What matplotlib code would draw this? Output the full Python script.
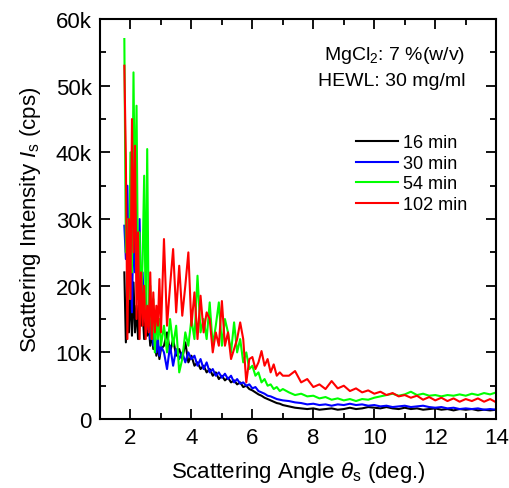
import matplotlib
matplotlib.use("Agg")
import matplotlib.pyplot as plt
from matplotlib.ticker import MultipleLocator, FuncFormatter

plt.rcParams["font.family"] = ["Liberation Sans", "DejaVu Sans"]
plt.rcParams["mathtext.fontset"] = "custom"
plt.rcParams["mathtext.rm"] = "Liberation Sans"
plt.rcParams["mathtext.it"] = "Liberation Sans:italic"

# scattering angle (deg.)
angle = [
    1.80, 1.85, 1.90, 1.95, 2.00, 2.05, 2.10, 2.15, 2.20, 2.25, 2.30, 2.35, 2.40,
    2.45, 2.50, 2.55, 2.60, 2.65, 2.70, 2.75, 2.80, 2.85, 2.90, 2.95, 3.00,
    3.1, 3.2, 3.3, 3.4, 3.5, 3.6, 3.7, 3.8, 3.9, 4.0, 4.1, 4.2, 4.3, 4.4, 4.5,
    4.6, 4.7, 4.8, 4.9, 5.0, 5.1, 5.2, 5.3, 5.4, 5.5, 5.6, 5.7, 5.8, 5.9, 6.0,
    6.1, 6.2, 6.3, 6.4, 6.5, 6.6, 6.7, 6.8, 6.9, 7.0,
    7.2, 7.4, 7.6, 7.8, 8.0, 8.2, 8.4, 8.6, 8.8, 9.0, 9.2, 9.4, 9.6, 9.8, 10.0,
    10.2, 10.4, 10.6, 10.8, 11.0, 11.2, 11.4, 11.6, 11.8, 12.0, 12.2, 12.4,
    12.6, 12.8, 13.0, 13.2, 13.4, 13.6, 13.8, 14.0,
]

# intensities in kcps
i_16min = [
    22, 11.5, 18, 13, 19.5, 12.5, 20.5, 13, 17, 12, 20, 14, 16, 12, 15, 12.5,
    14, 11, 13, 10.5, 12, 9.5, 11, 9, 10.5,
    11, 13, 10, 12, 9.5, 10.5, 9, 11.5, 8.5, 9.5, 8, 8.5, 7.5, 8, 7, 7.5, 6.5,
    7, 6, 6.5, 5.8, 6.2, 5.5, 5.8, 5.2, 5.5, 4.8, 5, 4.5, 4.3, 4, 3.7, 3.5,
    3.2, 3, 2.8, 2.6, 2.4, 2.3, 2.1,
    1.9, 1.7, 1.6, 1.5, 1.6, 1.4, 1.5, 1.6, 1.4, 1.5, 1.7, 1.5, 1.6, 1.8, 1.7,
    1.6, 1.8, 1.6, 1.5, 1.7, 1.5, 1.6, 1.4, 1.5, 1.6, 1.4, 1.5, 1.3, 1.5, 1.4,
    1.5, 1.3, 1.4, 1.3, 1.4,
]
i_30min = [
    29, 24, 35, 20, 28, 16, 30, 22, 33, 18, 30, 17, 22, 15, 19, 13.5, 17, 12,
    15, 11, 13, 10, 12, 9.5, 11,
    10, 7.5, 11, 8, 10.5, 9, 10, 8.5, 10, 9, 9.5, 8, 9, 7.5, 8.5, 7, 7.5, 6.5,
    7, 6.2, 6.8, 6, 6.5, 5.5, 6, 5.3, 5.5, 5, 5.2, 4.6, 4.8, 4.2, 4, 3.8, 3.5,
    3.4, 3.2, 3.0, 2.9, 2.8,
    2.7, 2.5, 2.4, 2.2, 2.3, 2.1, 2.2, 2.0, 2.2, 2.1, 2.3, 2.1, 2.2, 2.0, 2.1,
    1.9, 2.0, 1.8, 1.9, 2.0, 1.8, 1.9, 2.0, 1.8, 1.7, 1.8, 1.6, 1.7, 1.5, 1.6,
    1.5, 1.6, 1.4, 1.5, 1.4,
]
i_54min = [
    57, 25, 30, 18, 40, 22, 52, 30, 47, 20, 28, 17, 24, 36.5, 15, 40.5, 14, 20,
    12, 18, 10, 16, 12, 15, 11,
    14, 10, 15, 11, 14, 7, 9, 13, 11, 15, 12, 21.5, 13, 15, 12, 17.5, 11, 14,
    17.5, 11, 15, 13, 10, 14.5, 10, 12, 8.5, 10, 7.5, 8, 6.5, 7, 5.5, 6, 5,
    5.2, 4.5, 4.8, 4.2, 4.5,
    4.0, 3.6, 3.8, 3.4, 3.5, 3.1, 3.3, 2.9, 3.1, 2.8, 3.0, 2.7, 3.0, 2.9, 3.2,
    3.4, 3.6, 3.8, 3.5, 3.7, 4.1, 3.6, 3.8, 3.5, 3.6, 3.4, 3.6, 3.5, 3.7, 3.5,
    3.8, 3.6, 3.9, 3.7, 4.0,
]
i_102min = [
    53, 39, 12, 30, 18, 45, 25, 41, 15, 28, 12, 22, 14, 20, 12, 17, 13, 22, 12,
    19, 13, 17, 14, 21, 13,
    27, 14, 20, 25.5, 16, 23, 15.5, 20, 25, 14, 19, 12, 18.5, 13, 16, 15, 10,
    13, 11, 17.7, 11, 13, 9, 10.5, 12, 14.5, 12, 5.5, 9, 9.3, 7.5, 8.5, 10.2,
    8, 9, 7, 8.2, 6.5, 7, 6.5,
    6.5, 7.2, 5.5, 6.0, 4.8, 5.2, 4.5, 5.7, 4.6, 5.0, 4.2, 4.6, 4.0, 4.3, 3.8,
    4.1, 3.6, 3.9, 3.4, 3.6, 3.2, 3.5, 2.9, 3.3, 2.8, 3.2, 2.7, 3.1, 2.6, 3.0,
    2.7, 3.1, 2.6, 3.0, 2.5,
]

series = [
    ("16 min", i_16min, "black"),
    ("30 min", i_30min, "#0000ff"),
    ("54 min", i_54min, "#00ff00"),
    ("102 min", i_102min, "#ff0000"),
]

fig = plt.figure(figsize=(5.1, 4.89), dpi=100)
ax = fig.add_axes([0.196, 0.141, 0.777, 0.818])

for label, vals, color in series:
    ax.plot(angle, vals, color=color, linewidth=1.5, label=label)

ax.set_xlim(1, 14)
ax.set_ylim(0, 60)
ax.xaxis.set_major_locator(MultipleLocator(2))
ax.xaxis.set_minor_locator(MultipleLocator(1))
ax.yaxis.set_major_locator(MultipleLocator(10))
ax.yaxis.set_minor_locator(MultipleLocator(5))
ax.yaxis.set_major_formatter(FuncFormatter(lambda v, p: "0" if v == 0 else f"{v:g}k"))

ax.tick_params(which="both", direction="in", top=True, right=True, width=1.3,
               labelsize=16, pad=6)
ax.tick_params(which="major", length=7.5)
ax.tick_params(which="minor", length=4)
for s in ax.spines.values():
    s.set_linewidth(1.5)

ax.set_xlabel(r"Scattering Angle $\mathit{\theta}_\mathrm{s}$ (deg.)", fontsize=16,
              labelpad=8)
ax.set_ylabel(r"Scattering Intensity $\mathit{I}_\mathrm{s}$ (cps)", fontsize=16,
              labelpad=9)

ax.text(0.922, 0.912, r"MgCl$_2$: 7 %(w/v)", transform=ax.transAxes,
        ha="right", va="center", fontsize=14)
ax.text(0.922, 0.847, "HEWL: 30 mg/ml", transform=ax.transAxes,
        ha="right", va="center", fontsize=14)

leg = ax.legend(loc="upper right", bbox_to_anchor=(0.945, 0.73), frameon=False,
                fontsize=13, handlelength=2.3, handletextpad=0.3,
                labelspacing=0.2, borderaxespad=0)
for line in leg.get_lines():
    line.set_linewidth(1.5)

fig.savefig("out.png", dpi=100)
